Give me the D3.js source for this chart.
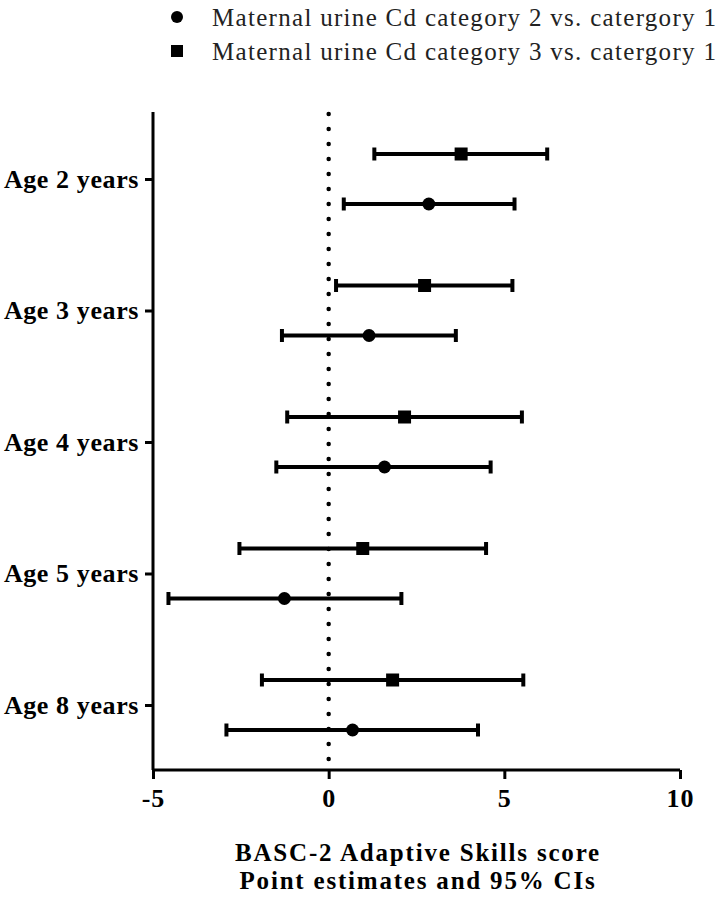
<!DOCTYPE html>
<html>
<head>
<meta charset="utf-8">
<script src="https://cdn.jsdelivr.net/npm/d3@7"></script>
<style>
  body { margin: 0; background: #fff; }
  svg { display: block; }
</style>
</head>
<body>
<div id="chart"></div>
<script>
// data
const ages = ["Age 2 years", "Age 3 years", "Age 4 years", "Age 5 years", "Age 8 years"];

// category 2 vs 1 (circles)
const cat2Est = [2.85, 1.15, 1.59, -1.26, 0.68];
const cat2Lo  = [0.43, -1.33, -1.49, -4.56, -2.91];
const cat2Hi  = [5.29, 3.62, 4.61, 2.07, 4.25];

// category 3 vs 1 (squares)
const cat3Est = [3.77, 2.73, 2.16, 0.97, 1.82];
const cat3Lo  = [1.30, 0.21, -1.18, -2.54, -1.90];
const cat3Hi  = [6.22, 5.23, 5.50, 4.48, 5.54];

const xTicks = [-5, 0, 5, 10];
const legendLabels = [
  "Maternal urine Cd category 2 vs. catergory 1",
  "Maternal urine Cd category 3 vs. catergory 1"
];
const titleLines = ["BASC-2 Adaptive Skills score", "Point estimates and 95% CIs"];

const width = 721, height = 900;
const serif = "'Liberation Serif', 'Times New Roman', serif";

const svg = d3.select("#chart").append("svg")
  .attr("width", width)
  .attr("height", height);

const x = d3.scaleLinear().domain([-5, 10]).range([153, 680]);
const y = d3.scalePoint().domain(ages).range([179, 705]);
const yTop = 112, yBottom = 770;

// rows: square above the tick, circle below
const rows = [];
ages.forEach((a, i) => {
  rows.push({ age: a, shape: "square", est: cat3Est[i], lo: cat3Lo[i], hi: cat3Hi[i], off: -25 });
  rows.push({ age: a, shape: "circle", est: cat2Est[i], lo: cat2Lo[i], hi: cat2Hi[i], off: 25 });
});

// dotted zero line
svg.append("line")
  .attr("x1", x(0)).attr("x2", x(0))
  .attr("y1", yTop + 2).attr("y2", yBottom - 4)
  .attr("stroke", "#000")
  .attr("stroke-width", 4.5)
  .attr("stroke-linecap", "round")
  .attr("stroke-dasharray", "0,15");

// x axis
const xAxis = svg.append("g")
  .attr("transform", `translate(0,${yBottom})`)
  .call(d3.axisBottom(x).tickValues(xTicks).tickSize(9).tickPadding(10).tickFormat(d => String(d)));
xAxis.select(".domain").attr("stroke-width", 3).attr("d", `M${x(-5)},0H${x(10)}`);
xAxis.selectAll(".tick line").attr("stroke-width", 3);
xAxis.selectAll(".tick text")
  .attr("font-family", serif)
  .attr("font-weight", "bold")
  .attr("font-size", 26)
  .attr("letter-spacing", 1)
  .attr("fill", "#000");

// y axis
const yAxis = svg.append("g")
  .attr("transform", `translate(${x(-5)},0)`)
  .call(d3.axisLeft(y).tickSize(8).tickPadding(6));
yAxis.select(".domain").attr("stroke-width", 3).attr("d", `M0,${yTop}V${yBottom}`);
yAxis.selectAll(".tick line").attr("stroke-width", 3);
yAxis.selectAll(".tick text")
  .attr("font-family", serif)
  .attr("font-weight", "bold")
  .attr("font-size", 26)
  .attr("letter-spacing", 0.6)
  .attr("fill", "#000");

// error bars
const bars = svg.append("g").selectAll("g")
  .data(rows).enter().append("g")
  .attr("transform", d => `translate(0,${y(d.age) + d.off})`);

bars.append("line")
  .attr("x1", d => x(d.lo)).attr("x2", d => x(d.hi))
  .attr("stroke", "#000").attr("stroke-width", 4);
bars.append("line")
  .attr("x1", d => x(d.lo)).attr("x2", d => x(d.lo))
  .attr("y1", -6.5).attr("y2", 6.5)
  .attr("stroke", "#000").attr("stroke-width", 4);
bars.append("line")
  .attr("x1", d => x(d.hi)).attr("x2", d => x(d.hi))
  .attr("y1", -6.5).attr("y2", 6.5)
  .attr("stroke", "#000").attr("stroke-width", 4);

bars.filter(d => d.shape === "circle").append("circle")
  .attr("cx", d => x(d.est)).attr("r", 6.5).attr("fill", "#000");
bars.filter(d => d.shape === "square").append("rect")
  .attr("x", d => x(d.est) - 6.5).attr("y", -6.5)
  .attr("width", 13).attr("height", 13).attr("fill", "#000");

// legend
const legend = svg.append("g").selectAll("g")
  .data(legendLabels).enter().append("g")
  .attr("transform", (d, i) => `translate(177,${17 + i * 34})`);
legend.filter((d, i) => i === 0).append("circle").attr("r", 6).attr("fill", "#000");
legend.filter((d, i) => i === 1).append("rect")
  .attr("x", -6).attr("y", -6).attr("width", 12).attr("height", 12).attr("fill", "#000");
legend.append("text")
  .attr("x", 35).attr("dy", "0.35em")
  .attr("font-family", serif)
  .attr("font-size", 25)
  .attr("letter-spacing", 1.3)
  .attr("fill", "#222")
  .text(d => d);

// axis title
svg.append("g").selectAll("text")
  .data(titleLines).enter().append("text")
  .attr("x", 418)
  .attr("y", (d, i) => 852 + i * 28)
  .attr("dy", "0.35em")
  .attr("text-anchor", "middle")
  .attr("font-family", serif)
  .attr("font-weight", "bold")
  .attr("font-size", 25)
  .attr("letter-spacing", 1.8)
  .attr("fill", "#000")
  .text(d => d);
</script>
</body>
</html>
